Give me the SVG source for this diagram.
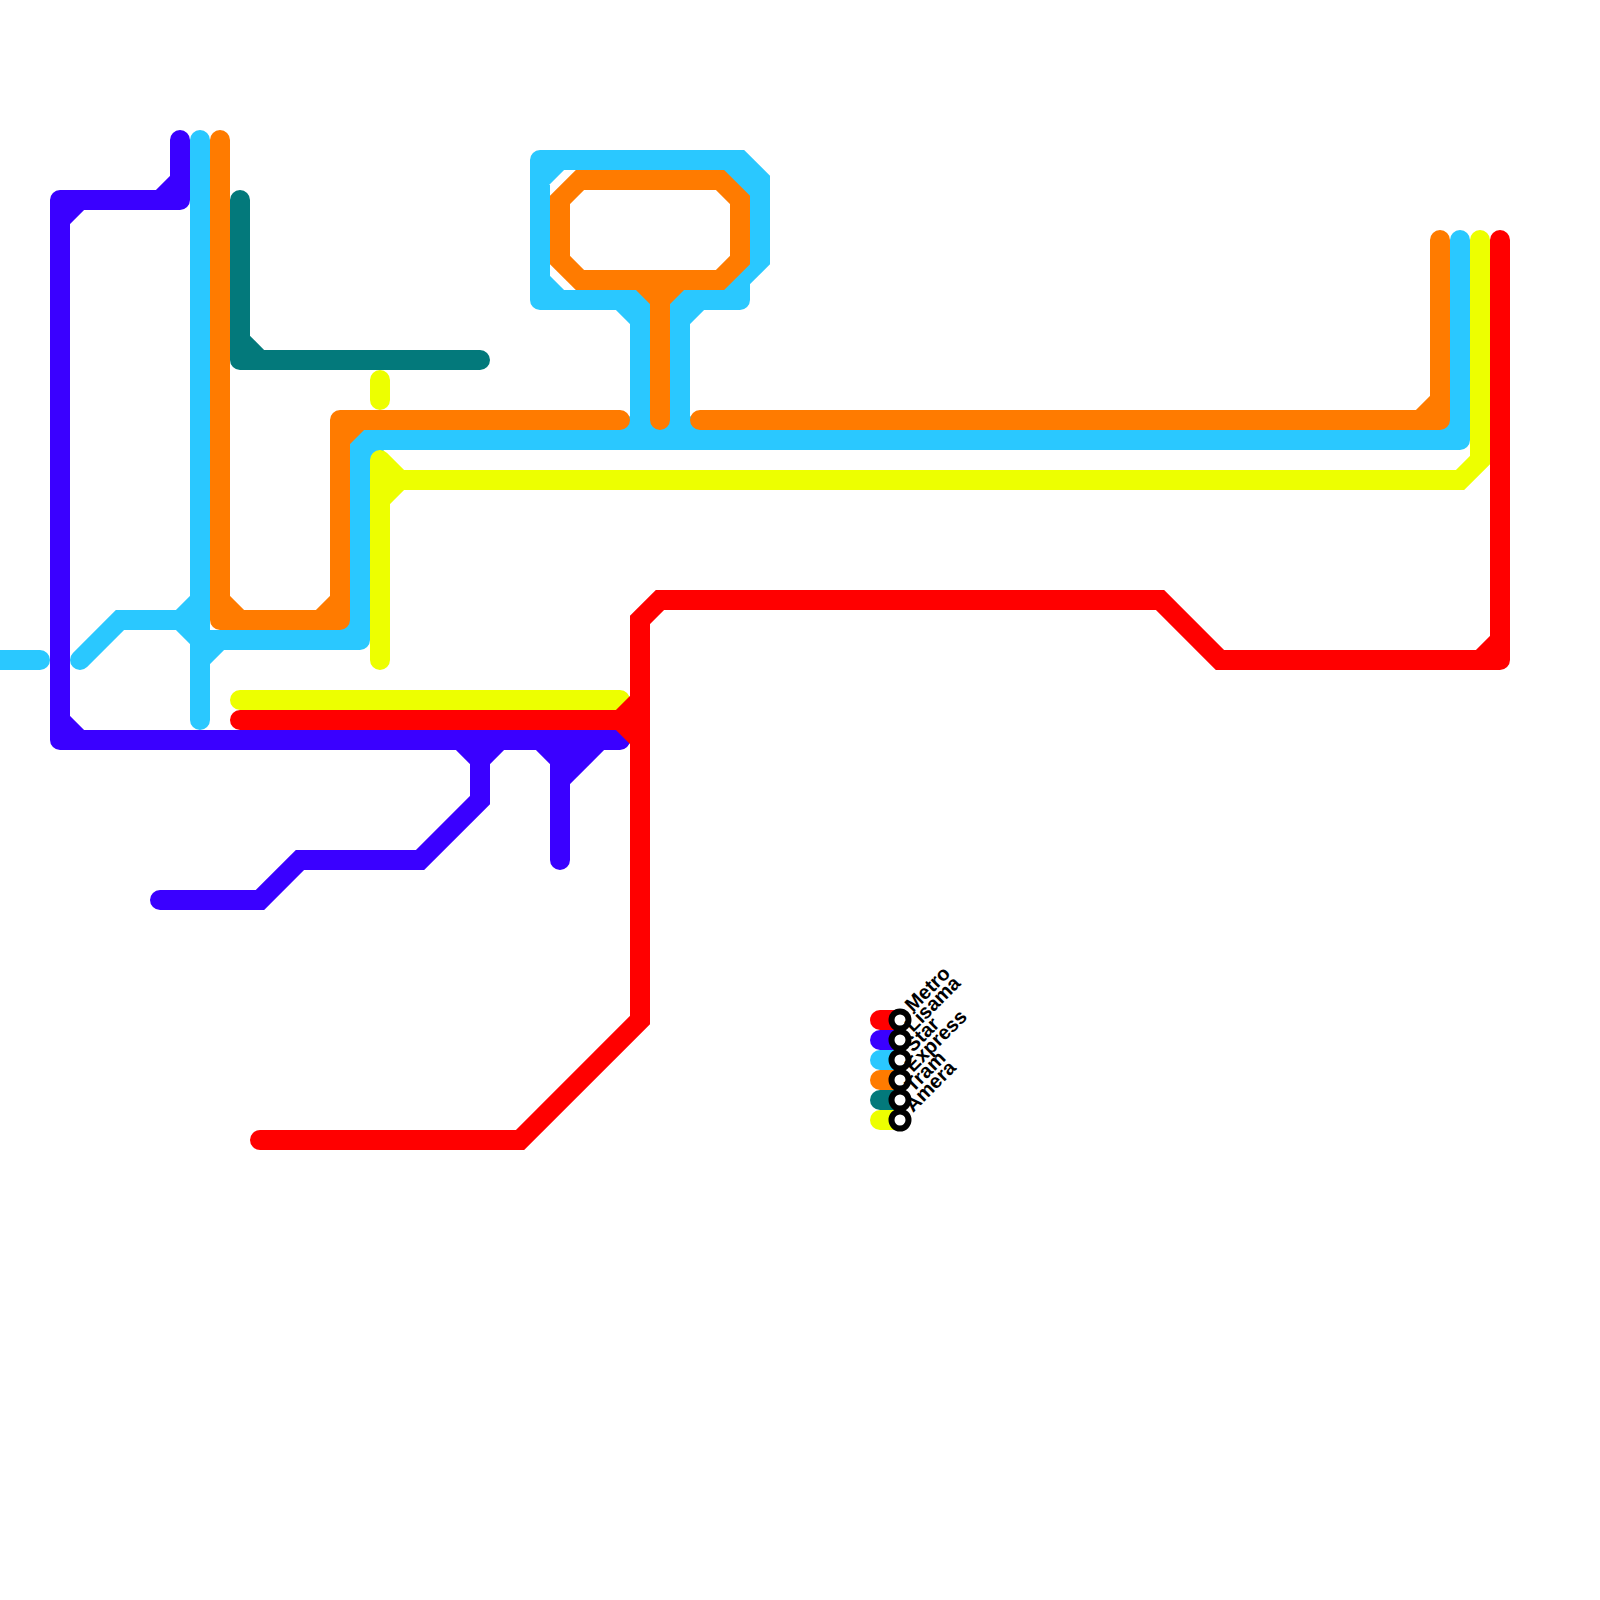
<svg xmlns="http://www.w3.org/2000/svg" width="1600" height="1600" viewBox="0 0 1600 1600">
<style>
.l{fill:none;stroke-width:20;stroke-linecap:round;stroke-linejoin:miter}
.red{stroke:#ff0000}.blue{stroke:#3a00ff}.cyan{stroke:#2ac8ff}.orange{stroke:#ff7b00}.teal{stroke:#03797b}.yellow{stroke:#edff00}
.st{fill:#fff;stroke:#000;stroke-width:6}
text{font-family:"Liberation Sans",Arial,sans-serif;font-weight:bold;font-size:20px;fill:#000}
</style>
<rect width="1600" height="1600" fill="#fff"/>
<g id="connectors">
<path id="line-express" class="l cyan" d="M-10 660H40M80 660L120 620H200M200 140V720M200 640H360M360 640V440M360 440H1460M1460 440V240M180 620L200 600M180 620L200 640M200 660L220 640M340 640L360 620M360 460L380 440M1440 440L1460 420M620 440L640 420M640 420L660 440M660 440L680 420M680 420L700 440M640 440V300M640 300H540M540 300V160M540 160H740L760 180V260L740 280V300M740 300H680M680 300V440M540 180L560 160M540 280L560 300M620 300L640 320M680 320L700 300M730 170L750 190M720 300L740 280"/>
<path id="line-tram-orange" class="l orange" d="M220 140V620M220 620H340M340 620V420M340 420H620M220 600L240 620M320 620L340 600M340 440L360 420M1440 240V420M1440 420H700M1420 420L1440 400M660 420V300M660 300L640 280M640 280H580L560 260V200L580 180H720L740 200V260L720 280H640M680 280L660 300"/>
<path id="line-teal" class="l teal" d="M240 200V360M240 360H480M240 340L260 360"/>
<path id="line-lisama" class="l blue" d="M180 140V200M180 200H60M60 200V740M60 740H620M160 200L180 180M60 220L80 200M60 720L80 740M480 740V800L420 860H300L260 900H160M460 740L480 760M480 760L500 740M560 740V860M540 740L560 760M560 780L600 740M560 760L580 740"/>
<path id="line-amera" class="l yellow" d="M380 380V400M240 700H620M380 660V460M380 460L400 480M400 480H1460L1480 460V240M380 500L400 480"/>
<path id="line-metro" class="l red" d="M240 720H620M620 720L640 700M620 720L640 740M260 1140H520L640 1020V620L660 600H1160L1220 660H1500M1500 660V240M1480 660L1500 640"/>
</g>
<g id="legend-metro"><path class="l red" d="M880 1020H900"/><circle class="st" cx="900" cy="1020" r="8.5"/><text transform="translate(913 1013) rotate(-45)">Metro</text></g>
<g id="legend-lisama"><path class="l blue" d="M880 1040H900"/><circle class="st" cx="900" cy="1040" r="8.5"/><text transform="translate(913 1033) rotate(-45)">Lisama</text></g>
<g id="legend-star"><path class="l cyan" d="M880 1060H900"/><circle class="st" cx="900" cy="1060" r="8.5"/><text transform="translate(913 1053) rotate(-45)">Star</text></g>
<g id="legend-express"><path class="l orange" d="M880 1080H900"/><circle class="st" cx="900" cy="1080" r="8.5"/><text transform="translate(913 1073) rotate(-45)">Express</text></g>
<g id="legend-tram"><path class="l teal" d="M880 1100H900"/><circle class="st" cx="900" cy="1100" r="8.5"/><text transform="translate(913 1093) rotate(-45)">Tram</text></g>
<g id="legend-amera"><path class="l yellow" d="M880 1120H900"/><circle class="st" cx="900" cy="1120" r="8.5"/><text transform="translate(913 1113) rotate(-45)">Amera</text></g>
</svg>
